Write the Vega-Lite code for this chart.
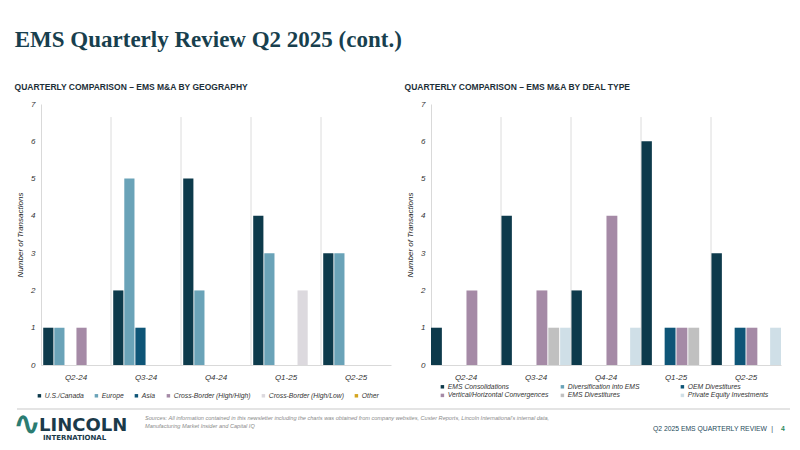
{
  "$schema": "https://vega.github.io/schema/vega-lite/v6.json",
  "background": "white",
  "padding": {"left": 12, "top": 28, "right": 5, "bottom": 0},
  "title": {
    "text": "EMS Quarterly Review Q2 2025 (cont.)",
    "anchor": "start",
    "font": "Liberation Serif",
    "fontSize": 23,
    "fontWeight": "bold",
    "color": "#183f4e",
    "offset": 31,
    "dx": 2
  },
  "config": {
    "view": {"stroke": null},
    "font": "Liberation Sans",
    "title": {"font": "Liberation Sans"},
    "axis": {"labelFont": "Liberation Sans", "titleFont": "Liberation Sans"},
    "axisX": {
      "title": null,
      "labelAngle": 0,
      "labelFontStyle": "italic",
      "labelFontSize": 8,
      "labelColor": "#333333",
      "labelPadding": 8,
      "ticks": false,
      "grid": false,
      "domainColor": "#d9d9d9"
    },
    "axisY": {
      "titleFontStyle": "italic",
      "titleFontWeight": "normal",
      "titleFontSize": 8,
      "titleColor": "#222222",
      "titlePadding": 6,
      "labelOverlap": false,
      "labelFontStyle": "italic",
      "labelFontSize": 8,
      "labelColor": "#333333",
      "labelPadding": 6,
      "ticks": false,
      "grid": false,
      "domainColor": "#d9d9d9"
    },
    "legend": {"labelFont": "Liberation Sans"}
  },
  "vconcat": [
    {
      "hconcat": [
        {
          "width": 350,
          "height": 261,
          "title": {
            "text": "QUARTERLY COMPARISON – EMS M&A BY GEOGRAPHY",
            "anchor": "start",
            "fontSize": 8.5,
            "fontWeight": "bold",
            "color": "#1d2f38",
            "offset": 9,
            "dx": -2
          },
          "layer": [
            {
              "data": {
                "values": [
                  {"quarter": "Q2-24", "region": "U.S./Canada", "deals": 1},
                  {"quarter": "Q2-24", "region": "Europe", "deals": 1},
                  {"quarter": "Q2-24", "region": "Cross-Border (High/High)", "deals": 1},
                  {"quarter": "Q3-24", "region": "U.S./Canada", "deals": 2},
                  {"quarter": "Q3-24", "region": "Europe", "deals": 5},
                  {"quarter": "Q3-24", "region": "Asia", "deals": 1},
                  {"quarter": "Q4-24", "region": "U.S./Canada", "deals": 5},
                  {"quarter": "Q4-24", "region": "Europe", "deals": 2},
                  {"quarter": "Q1-25", "region": "U.S./Canada", "deals": 4},
                  {"quarter": "Q1-25", "region": "Europe", "deals": 3},
                  {"quarter": "Q1-25", "region": "Cross-Border (High/Low)", "deals": 2},
                  {"quarter": "Q2-25", "region": "U.S./Canada", "deals": 3},
                  {"quarter": "Q2-25", "region": "Europe", "deals": 3}
                ]
              },
              "mark": {"type": "bar"},
              "encoding": {
                "x": {
                  "field": "quarter",
                  "type": "nominal",
                  "sort": ["Q2-24", "Q3-24", "Q4-24", "Q1-25", "Q2-25"],
                  "scale": {"paddingInner": 0, "paddingOuter": 0}
                },
                "xOffset": {
                  "field": "region",
                  "type": "nominal",
                  "scale": {
                    "domain": ["U.S./Canada", "Europe", "Asia", "Cross-Border (High/High)", "Cross-Border (High/Low)", "Other"],
                    "paddingInner": 0.08,
                    "paddingOuter": 0.2
                  }
                },
                "y": {
                  "field": "deals",
                  "type": "quantitative",
                  "scale": {"domain": [0, 7], "nice": false},
                  "axis": {"title": "Number of Transactions", "values": [0, 1, 2, 3, 4, 5, 6, 7], "format": "d"}
                },
                "color": {
                  "field": "region",
                  "type": "nominal",
                  "scale": {
                    "domain": ["U.S./Canada", "Europe", "Asia", "Cross-Border (High/High)", "Cross-Border (High/Low)", "Other"],
                    "range": ["#0d3a4b", "#6aa3b8", "#0e5577", "#a58aa6", "#dcd9de", "#d4a520"]
                  },
                  "legend": {
                    "title": null,
                    "orient": "none",
                    "legendX": -5,
                    "legendY": 288,
                    "direction": "horizontal",
                    "symbolType": "square",
                    "symbolSize": 12,
                    "symbolStrokeWidth": 0,
                    "labelFontSize": 6.8,
                    "labelFontStyle": "italic",
                    "labelColor": "#333333",
                    "labelOffset": 2,
                    "columnPadding": 9
                  }
                }
              }
            },
            {
              "data": {"values": [{"quarter": "Q3-24"}, {"quarter": "Q4-24"}, {"quarter": "Q1-25"}, {"quarter": "Q2-25"}]},
              "mark": {"type": "rule", "color": "#dcdcdc", "strokeWidth": 1},
              "encoding": {
                "x": {"field": "quarter", "type": "nominal", "bandPosition": 0, "sort": ["Q2-24", "Q3-24", "Q4-24", "Q1-25", "Q2-25"]},
                "y": {"datum": 0, "type": "quantitative", "axis": {"title": "Number of Transactions", "values": [0, 1, 2, 3, 4, 5, 6, 7], "format": "d"}},
                "y2": {"datum": 6.65}
              }
            }
          ]
        },
        {
          "width": 350,
          "height": 261,
          "title": {
            "text": "QUARTERLY COMPARISON – EMS M&A BY DEAL TYPE",
            "anchor": "start",
            "fontSize": 8.5,
            "fontWeight": "bold",
            "color": "#1d2f38",
            "offset": 9,
            "dx": -2
          },
          "layer": [
            {
              "data": {
                "values": [
                  {"quarter": "Q2-24", "dealType": "EMS Consolidations", "deals": 1},
                  {"quarter": "Q2-24", "dealType": "Vertical/Horizontal Convergences", "deals": 2},
                  {"quarter": "Q3-24", "dealType": "EMS Consolidations", "deals": 4},
                  {"quarter": "Q3-24", "dealType": "Vertical/Horizontal Convergences", "deals": 2},
                  {"quarter": "Q3-24", "dealType": "EMS Divestitures", "deals": 1},
                  {"quarter": "Q3-24", "dealType": "Private Equity Investments", "deals": 1},
                  {"quarter": "Q4-24", "dealType": "EMS Consolidations", "deals": 2},
                  {"quarter": "Q4-24", "dealType": "Vertical/Horizontal Convergences", "deals": 4},
                  {"quarter": "Q4-24", "dealType": "Private Equity Investments", "deals": 1},
                  {"quarter": "Q1-25", "dealType": "EMS Consolidations", "deals": 6},
                  {"quarter": "Q1-25", "dealType": "OEM Divestitures", "deals": 1},
                  {"quarter": "Q1-25", "dealType": "Vertical/Horizontal Convergences", "deals": 1},
                  {"quarter": "Q1-25", "dealType": "EMS Divestitures", "deals": 1},
                  {"quarter": "Q2-25", "dealType": "EMS Consolidations", "deals": 3},
                  {"quarter": "Q2-25", "dealType": "OEM Divestitures", "deals": 1},
                  {"quarter": "Q2-25", "dealType": "Vertical/Horizontal Convergences", "deals": 1},
                  {"quarter": "Q2-25", "dealType": "Private Equity Investments", "deals": 1}
                ]
              },
              "mark": {"type": "bar"},
              "encoding": {
                "x": {
                  "field": "quarter",
                  "type": "nominal",
                  "sort": ["Q2-24", "Q3-24", "Q4-24", "Q1-25", "Q2-25"],
                  "scale": {"paddingInner": 0, "paddingOuter": 0}
                },
                "xOffset": {
                  "field": "dealType",
                  "type": "nominal",
                  "scale": {
                    "domain": ["EMS Consolidations", "Diversification into EMS", "OEM Divestitures", "Vertical/Horizontal Convergences", "EMS Divestitures", "Private Equity Investments"],
                    "paddingInner": 0.08,
                    "paddingOuter": 0
                  }
                },
                "y": {
                  "field": "deals",
                  "type": "quantitative",
                  "scale": {"domain": [0, 7], "nice": false},
                  "axis": {"title": "Number of Transactions", "values": [0, 1, 2, 3, 4, 5, 6, 7], "format": "d"}
                },
                "color": {
                  "field": "dealType",
                  "type": "nominal",
                  "scale": {
                    "domain": ["EMS Consolidations", "Diversification into EMS", "OEM Divestitures", "Vertical/Horizontal Convergences", "EMS Divestitures", "Private Equity Investments"],
                    "range": ["#0d3a4b", "#6aa3b8", "#0e5577", "#a58aa6", "#c0c0c0", "#cfdfe7"]
                  },
                  "legend": {
                    "title": null,
                    "orient": "none",
                    "legendX": 8,
                    "legendY": 279,
                    "direction": "horizontal",
                    "columns": 3,
                    "gridAlign": "all",
                    "symbolType": "square",
                    "symbolSize": 12,
                    "symbolStrokeWidth": 0,
                    "labelFontSize": 6.8,
                    "labelFontStyle": "italic",
                    "labelColor": "#333333",
                    "labelOffset": 2,
                    "columnPadding": 10,
                    "rowPadding": 1
                  }
                }
              }
            },
            {
              "data": {"values": [{"quarter": "Q3-24"}, {"quarter": "Q4-24"}, {"quarter": "Q1-25"}, {"quarter": "Q2-25"}]},
              "mark": {"type": "rule", "color": "#dcdcdc", "strokeWidth": 1},
              "encoding": {
                "x": {"field": "quarter", "type": "nominal", "bandPosition": 0, "sort": ["Q2-24", "Q3-24", "Q4-24", "Q1-25", "Q2-25"]},
                "y": {"datum": 0, "type": "quantitative", "axis": {"title": "Number of Transactions", "values": [0, 1, 2, 3, 4, 5, 6, 7], "format": "d"}},
                "y2": {"datum": 6.65}
              }
            }
          ]
        }
      ],
      "spacing": 13,
      "resolve": {
        "scale": {"x": "independent", "xOffset": "independent", "y": "independent", "color": "independent"},
        "legend": {"color": "independent"}
      }
    },
    {
      "width": 737,
      "height": 36,
      "data": {"values": [{}]},
      "layer": [
        {
          "mark": {"type": "rule", "color": "#e4e4e4", "strokeWidth": 2},
          "encoding": {"x": {"value": -24}, "x2": {"value": 749}, "y": {"value": 0}}
        },
        {
          "mark": {"type": "text", "text": "∿", "font": "DejaVu Sans", "fontSize": 34, "fontWeight": "bold", "color": "#2b7c72", "align": "center", "baseline": "middle"},
          "encoding": {"x": {"value": -14}, "y": {"value": 16}}
        },
        {
          "mark": {"type": "text", "text": "LINCOLN", "font": "DejaVu Sans", "fontSize": 18, "fontWeight": "bold", "color": "#1b3a4a", "align": "left", "baseline": "alphabetic"},
          "encoding": {"x": {"value": -2}, "y": {"value": 22}}
        },
        {
          "mark": {"type": "text", "text": "INTERNATIONAL", "font": "DejaVu Sans", "fontSize": 7, "fontWeight": "bold", "color": "#1b3a4a", "align": "left", "baseline": "alphabetic"},
          "encoding": {"x": {"value": 2}, "y": {"value": 31}}
        },
        {
          "mark": {"type": "text", "text": ["Sources: All information contained in this newsletter including the charts was obtained from company websites, Custer Reports, Lincoln International's internal data,", "Manufacturing Market Insider and Capital IQ"], "fontSize": 5.6, "fontStyle": "italic", "color": "#8a8a8a", "align": "left", "baseline": "alphabetic", "lineHeight": 8},
          "encoding": {"x": {"value": 104}, "y": {"value": 11}}
        },
        {
          "mark": {"type": "text", "text": "Q2 2025 EMS QUARTERLY REVIEW", "fontSize": 6.8, "color": "#1e4a5a", "align": "right", "baseline": "alphabetic"},
          "encoding": {"x": {"value": 726}, "y": {"value": 22}}
        },
        {
          "mark": {"type": "text", "text": "|", "fontSize": 6.8, "color": "#1e4a5a", "align": "center", "baseline": "alphabetic"},
          "encoding": {"x": {"value": 731}, "y": {"value": 22}}
        },
        {
          "mark": {"type": "text", "text": "4", "fontSize": 6.8, "fontWeight": "bold", "color": "#2b8a5c", "align": "center", "baseline": "alphabetic"},
          "encoding": {"x": {"value": 742}, "y": {"value": 22}}
        }
      ]
    }
  ],
  "spacing": 8
}
